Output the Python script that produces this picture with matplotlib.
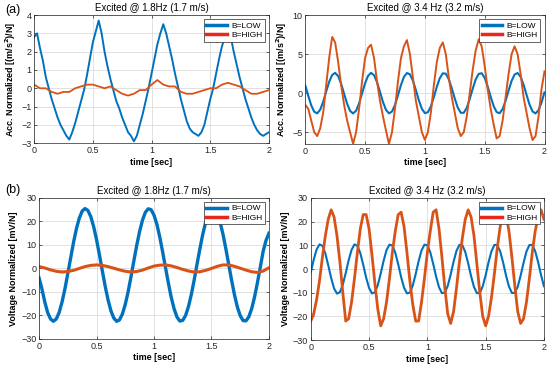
import numpy as np
import matplotlib
matplotlib.use('Agg')
import matplotlib.pyplot as plt
from matplotlib.lines import Line2D

plt.rcParams['font.family'] = ['Liberation Sans', 'DejaVu Sans']

# ---- data (step 0.025 s unless noted) ----
acc_low_18 = [2.8, 3.0, 2.2, 1.5, 0.6, 0.0, -0.6, -1.1, -1.6, -2.0, -2.3, -2.6, -2.8,
              -2.4, -1.9, -1.3, -0.7, -0.1, 0.7, 1.6, 2.5, 3.1, 3.7, 3.0, 2.0, 1.2,
              0.5, -0.1, -0.7, -1.1, -1.6, -2.0, -2.4, -2.6, -2.9, -2.6, -2.0, -1.4,
              -0.7, 0.0, 0.8, 1.6, 2.4, 3.0, 3.5, 3.0, 2.3, 1.6, 0.8, 0.1, -0.6, -1.2,
              -1.8, -2.2, -2.4, -2.5, -2.6, -2.4, -2.0, -1.3, -0.6, 0.0, 0.8, 1.6, 2.3,
              2.8, 3.1, 2.8, 2.0, 1.3, 0.6, 0.0, -0.6, -1.1, -1.6, -2.0, -2.3, -2.5,
              -2.6, -2.5, -2.4]
# step 0.05 s
acc_high_18 = [0.2, 0.0, -0.0, -0.2, -0.3, -0.2, -0.2, 0.0, 0.1, 0.2, 0.2, 0.1, 0.0,
               0.1, -0.1, -0.3, -0.4, -0.3, -0.1, -0.1, 0.2, 0.45, 0.2, 0.1, 0.1, -0.2,
               -0.3, -0.3, -0.2, -0.1, 0.0, 0.0, 0.2, 0.3, 0.2, 0.1, -0.1, -0.3, -0.3,
               -0.2, -0.1]

acc_low_34 = [0.99, -0.33, -1.56, -2.38, -2.59, -2.12, -1.10, 0.21, 1.46, 2.33, 2.60,
              2.18, 1.20, -0.09, -1.36, -2.28, -2.60, -2.25, -1.31, -0.03, 1.26, 2.22,
              2.60, 2.30, 1.41, 0.15, -1.15, -2.15, -2.59, -2.36, -1.51, -0.27, 1.04,
              2.08, 2.58, 2.41, 1.60, 0.39, -0.93, -2.01, -2.56, -2.45, -1.70, -0.51,
              0.82, 1.93, 2.54, 2.49, 1.79, 0.62, -0.70, -1.85, -2.51, -2.52, -1.88,
              -0.74, 0.58, 1.76, 2.47, 2.55, 1.96, 0.86, -0.46, -1.66, -2.43, -2.57,
              -2.03, -0.97, 0.34, 1.57, 2.39, 2.58, 2.11, 1.09, -0.22, -1.47, -2.34,
              -2.60, -2.18, -1.20, 0.10]
acc_high_34 = [-1.5, -2.0, -3.5, -5.0, -5.5, -4.5, -2.5, 1.0, 4.5, 7.2, 6.5, 4.0, 1.0,
               -1.5, -3.5, -5.0, -6.5, -5.0, -2.0, 1.5, 4.5, 5.8, 6.2, 4.5, 1.5, -1.0,
               -3.0, -4.8, -6.5, -5.0, -2.0, 1.5, 4.5, 6.0, 6.8, 5.0, 2.0, -1.0, -3.0,
               -5.0, -6.0, -5.0, -2.5, 1.0, 4.0, 5.8, 6.5, 5.0, 2.0, -0.5, -2.5, -4.5,
               -5.5, -5.0, -3.0, 0.0, 3.0, 5.5, 6.9, 6.0, 3.5, 0.5, -2.0, -4.0, -5.8,
               -5.5, -3.5, -0.5, 2.5, 5.0, 6.0, 5.0, 2.5, -0.5, -2.5, -4.5, -6.0, -5.5,
               -3.0, 0.5, 2.8]

volt_low_18 = [-4.0, -8.7, -14.3, -18.8, -21.5, -22.5, -21.5, -18.7, -14.3, -8.7, -2.2,
               4.5, 11.1, 16.9, 21.4, 24.4, 25.5, 24.7, 22.1, 17.8, 12.3, 5.9, -0.9,
               -7.5, -13.3, -18.0, -21.1, -22.5, -21.9, -19.4, -15.3, -9.9, -3.5, 3.3,
               9.9, 15.8, 20.6, 23.9, 25.4, 25.0, 22.7, 18.8, 13.4, 7.1, 0.4, -6.2,
               -12.3, -17.2, -20.7, -22.4, -22.1, -20.0, -16.2, -11.0, -4.8, 2.0, 8.6,
               14.7, 19.8, 23.4, 25.3, 25.2, 23.3, 19.7, 14.6, 8.4, 1.7, -5.0, -11.2,
               -16.4, -20.1, -22.2, -22.3, -20.6, -17.1, -12.1, -6.0, 0.6, 7.4, 12.0,
               15.0]
# step 0.05 s
volt_high_18 = [0.8, 0.2, -0.6, -1.2, -1.5, -1.3, -0.8, 0.0, 0.8, 1.3, 1.5, 1.3, 0.8,
                0.1, -0.6, -1.2, -1.5, -1.3, -0.7, 0.2, 1.0, 1.4, 1.5, 1.1, 0.4, -0.4,
                -1.1, -1.5, -1.4, -0.8, 0.0, 0.9, 1.5, 1.5, 0.9, 0.1, -0.7, -1.4, -1.7,
                -1.1, 0.3]

volt_low_34 = [-1.5, 3.9, 8.2, 10.4, 9.8, 6.6, 1.6, -3.8, -8.2, -10.4, -9.8, -6.6, -1.7,
               3.7, 8.1, 10.4, 9.8, 6.7, 1.8, -3.6, -8.0, -10.3, -9.9, -6.8, -1.9, 3.5,
               8.0, 10.3, 9.9, 6.9, 2.0, -3.4, -7.9, -10.3, -10.0, -7.0, -2.1, 3.3, 7.8,
               10.3, 10.0, 7.1, 2.2, -3.2, -7.7, -10.2, -10.0, -7.1, -2.3, 3.1, 7.7,
               10.2, 10.1, 7.2, 2.4, -3.0, -7.6, -10.2, -10.1, -7.3, -2.6, 2.9, 7.5,
               10.2, 10.1, 7.4, 2.7, -2.8, -7.4, -10.1, -10.1, -7.5, -2.8, 2.6, 7.4,
               10.1, 10.2, 7.5, 2.9, -2.5, -7.3]
volt_high_34 = [-22, -19, -13, -5, 5, 14, 21, 25, 22, 14, 3, -10, -22, -21, -14, -4, 7,
                17, 23, 23, 17, 6, -6, -17, -24, -21, -14, -4, 7, 16, 23, 24, 18, 7, -5,
                -15, -22, -22, -14, -4, 7, 16, 24, 25, 17, 5, -8, -19, -23, -18, -8, 3,
                13, 21, 25, 22, 14, 2, -10, -20, -24, -20, -12, -2, 9, 18, 24, 23, 16, 5,
                -7, -18, -23, -21, -14, -4, 7, 16, 22, 25, 21]

blue = '#0072BD'
orange = '#D95319'
legend_red = '#E8281C'
x_ticks = [0, 0.5, 1, 1.5, 2]
x_labels = ['0', '0.5', '1', '1.5', '2']

fig = plt.figure(figsize=(5.5, 3.68), dpi=100)

panels = [
    # rect, low, high, ylim, yticks, ylabel, title, lw_low, lw_high
    ([0.062, 0.611, 0.427, 0.348], acc_low_18, acc_high_18, (-3, 4), range(-3, 5),
     'Acc. Normalized [(m/s$^\\mathbf{2}$)/N]', 'Excited @ 1.8Hz (1.7 m/s)', 1.4, 1.3),
    ([0.555, 0.609, 0.435, 0.350], acc_low_34, acc_high_34, (-6.5, 10), [-5, 0, 5, 10],
     'Acc. Normalized [(m/s$^\\mathbf{2}$)/N]', 'Excited @ 3.4 Hz (3.2 m/s)', 1.5, 1.4),
    ([0.071, 0.079, 0.418, 0.383], volt_low_18, volt_high_18, (-30, 30), range(-30, 31, 10),
     'Voltage Normalized [mV/N]', 'Excited @ 1.8Hz (1.7 m/s)', 2.4, 2.2),
    ([0.565, 0.076, 0.424, 0.386], volt_low_34, volt_high_34, (-30, 30), range(-30, 31, 10),
     'Voltage Normalized [mV/N]', 'Excited @ 3.4 Hz (3.2 m/s)', 1.5, 2.0),
]

for rect, low, high, ylim, yticks, ylabel, title, lwl, lwh in panels:
    ax = fig.add_axes(rect)
    t_low = np.linspace(0, 2, len(low))
    t_high = np.linspace(0, 2, len(high))
    ax.plot(t_low, low, color=blue, lw=lwl)
    ax.plot(t_high, high, color=orange, lw=lwh)
    ax.set_xlim(0, 2)
    ax.set_ylim(*ylim)
    ax.set_xticks(x_ticks)
    ax.set_xticklabels(x_labels)
    ax.set_yticks(list(yticks))
    ax.grid(True, color='#dcdcdc', lw=0.6)
    ax.set_axisbelow(True)
    ax.tick_params(labelsize=6.5, direction='in', length=2, width=0.5,
                   top=True, right=True, colors='#262626', pad=2)
    for s in ax.spines.values():
        s.set_color('#262626')
        s.set_linewidth(0.5)
    ax.set_xlabel('time [sec]', fontsize=6.5, fontweight='bold', labelpad=2)
    ax.set_ylabel(ylabel, fontsize=6.5, fontweight='bold', labelpad=2)
    ax.set_title(title, fontsize=7, pad=3)
    handles = [Line2D([], [], color=blue, lw=2.5), Line2D([], [], color=legend_red, lw=2.5)]
    leg = ax.legend(handles, ['B=LOW', 'B=HIGH'], loc='upper right', fontsize=6,
                    frameon=True, fancybox=False, edgecolor='#262626', framealpha=1,
                    handlelength=2.5, borderpad=0.3, labelspacing=0.2,
                    handletextpad=0.5, borderaxespad=0.5)
    leg.get_frame().set_linewidth(0.5)

fig.text(0.01, 0.965, '(a)', fontsize=9)
fig.text(0.01, 0.475, '(b)', fontsize=9)

fig.savefig('out.png', dpi=100, facecolor='white')
